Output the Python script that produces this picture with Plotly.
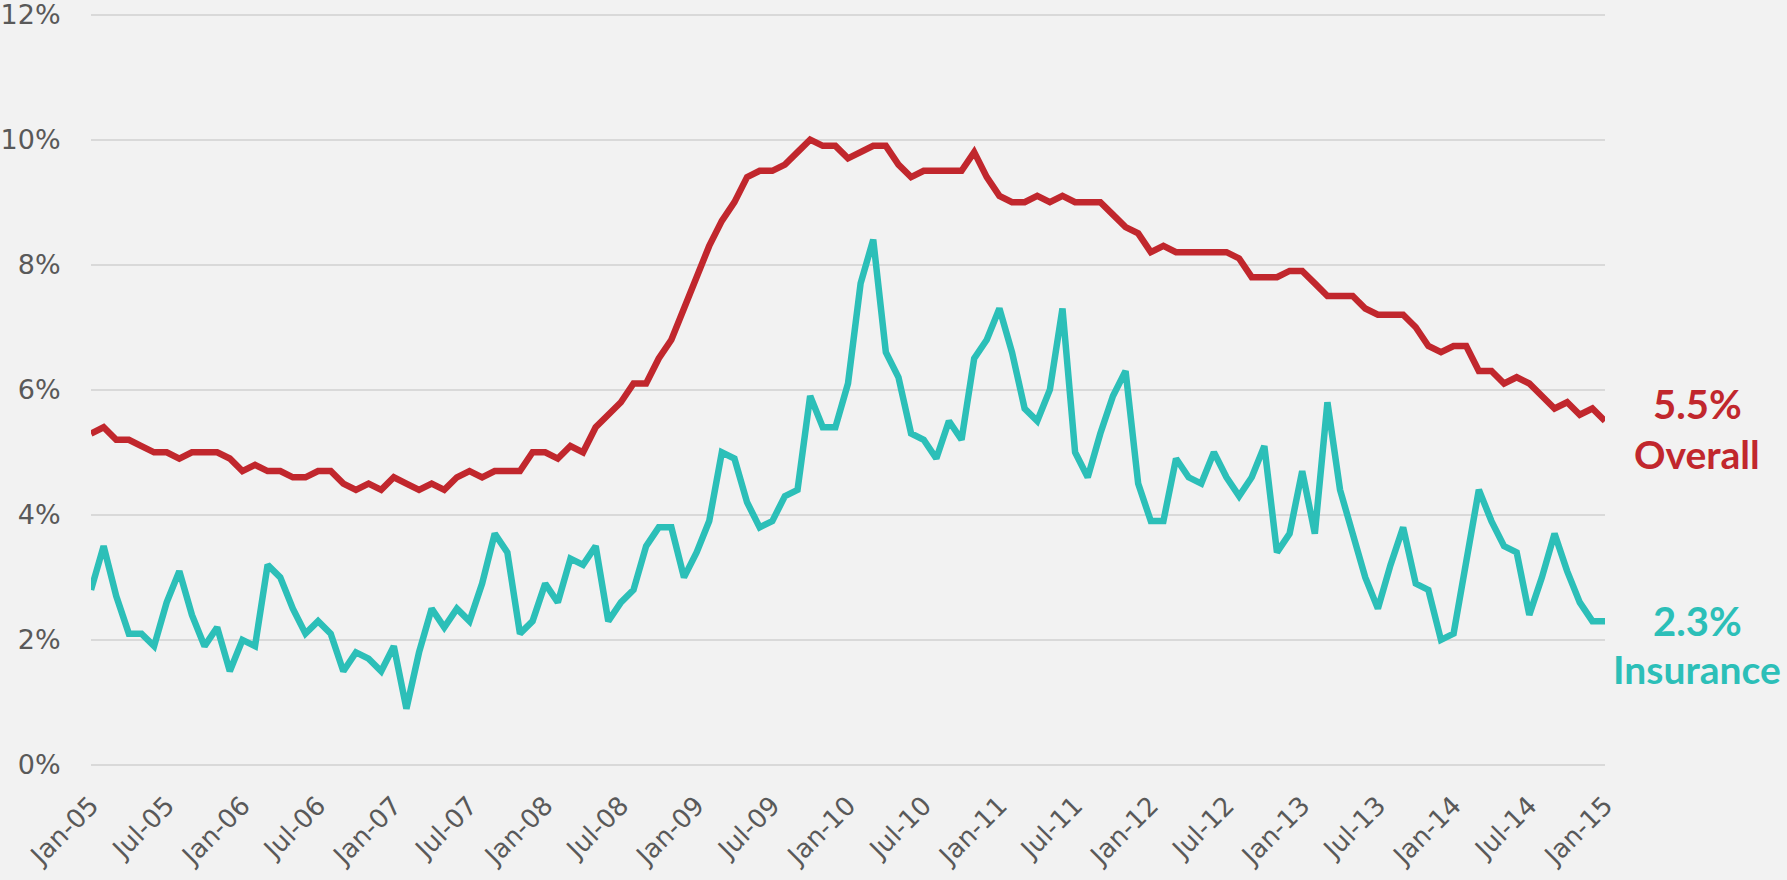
import pandas as pd
import plotly.graph_objects as go

# Monthly categories Jan-05 .. Jan-15
months = pd.date_range("2005-01-01", periods=121, freq="MS").strftime("%b-%y").tolist()

overall = [
    5.3, 5.4, 5.2, 5.2, 5.1, 5.0, 5.0, 4.9, 5.0, 5.0, 5.0, 4.9,   # 2005
    4.7, 4.8, 4.7, 4.7, 4.6, 4.6, 4.7, 4.7, 4.5, 4.4, 4.5, 4.4,   # 2006
    4.6, 4.5, 4.4, 4.5, 4.4, 4.6, 4.7, 4.6, 4.7, 4.7, 4.7, 5.0,   # 2007
    5.0, 4.9, 5.1, 5.0, 5.4, 5.6, 5.8, 6.1, 6.1, 6.5, 6.8, 7.3,   # 2008
    7.8, 8.3, 8.7, 9.0, 9.4, 9.5, 9.5, 9.6, 9.8, 10.0, 9.9, 9.9,  # 2009
    9.7, 9.8, 9.9, 9.9, 9.6, 9.4, 9.5, 9.5, 9.5, 9.5, 9.8, 9.4,   # 2010
    9.1, 9.0, 9.0, 9.1, 9.0, 9.1, 9.0, 9.0, 9.0, 8.8, 8.6, 8.5,   # 2011
    8.2, 8.3, 8.2, 8.2, 8.2, 8.2, 8.2, 8.1, 7.8, 7.8, 7.8, 7.9,   # 2012
    7.9, 7.7, 7.5, 7.5, 7.5, 7.3, 7.2, 7.2, 7.2, 7.0, 6.7, 6.6,   # 2013
    6.7, 6.7, 6.3, 6.3, 6.1, 6.2, 6.1, 5.9, 5.7, 5.8, 5.6, 5.7,   # 2014
    5.5,                                                          # 2015
]

insurance = [
    2.8, 3.5, 2.7, 2.1, 2.1, 1.9, 2.6, 3.1, 2.4, 1.9, 2.2, 1.5,   # 2005
    2.0, 1.9, 3.2, 3.0, 2.5, 2.1, 2.3, 2.1, 1.5, 1.8, 1.7, 1.5,   # 2006
    1.9, 0.9, 1.8, 2.5, 2.2, 2.5, 2.3, 2.9, 3.7, 3.4, 2.1, 2.3,   # 2007
    2.9, 2.6, 3.3, 3.2, 3.5, 2.3, 2.6, 2.8, 3.5, 3.8, 3.8, 3.0,   # 2008
    3.4, 3.9, 5.0, 4.9, 4.2, 3.8, 3.9, 4.3, 4.4, 5.9, 5.4, 5.4,   # 2009
    6.1, 7.7, 8.4, 6.6, 6.2, 5.3, 5.2, 4.9, 5.5, 5.2, 6.5, 6.8,   # 2010
    7.3, 6.6, 5.7, 5.5, 6.0, 7.3, 5.0, 4.6, 5.3, 5.9, 6.3, 4.5,   # 2011
    3.9, 3.9, 4.9, 4.6, 4.5, 5.0, 4.6, 4.3, 4.6, 5.1, 3.4, 3.7,   # 2012
    4.7, 3.7, 5.8, 4.4, 3.7, 3.0, 2.5, 3.2, 3.8, 2.9, 2.8, 2.0,   # 2013
    2.1, 3.3, 4.4, 3.9, 3.5, 3.4, 2.4, 3.0, 3.7, 3.1, 2.6, 2.3,   # 2014
    2.3,                                                          # 2015
]

tick_labels = months[::6]
y_ticks = [0, 2, 4, 6, 8, 10, 12]
y_tick_text = [f"{v}%" for v in y_ticks]

RED = "#C1272D"
TEAL = "#2CBFB8"
GRID = "#D9D9D9"
TXT = "#595959"

fig = go.Figure()
fig.add_trace(go.Scatter(x=months, y=overall, mode="lines", name="Overall",
                         line=dict(color=RED, width=6.5), hoverinfo="x+y"))
fig.add_trace(go.Scatter(x=months, y=insurance, mode="lines", name="Insurance",
                         line=dict(color=TEAL, width=6.5), hoverinfo="x+y"))

fig.update_layout(
    width=1787, height=880,
    paper_bgcolor="#F2F2F2", plot_bgcolor="#F2F2F2",
    margin=dict(l=91, r=182, t=12, b=115),
    showlegend=False,
    font=dict(family="DejaVu Sans, Verdana, sans-serif", color=TXT, size=26),
)
fig.update_xaxes(
    type="category", categoryorder="array", categoryarray=months,
    range=[0, len(months) - 1], automargin=False,
    tickmode="array", tickvals=tick_labels, ticktext=tick_labels,
    tickangle=-45, showgrid=False, showline=False, zeroline=False,
    ticks="outside", ticklen=14, tickcolor="rgba(0,0,0,0)",
    tickfont=dict(size=26, color=TXT),
)
fig.update_yaxes(
    range=[0, 12.04], automargin=False,
    tickmode="array", tickvals=y_ticks, ticktext=y_tick_text,
    showgrid=True, gridcolor=GRID, gridwidth=1.6,
    zeroline=True, zerolinecolor=GRID, zerolinewidth=1.6,
    showline=False, ticks="outside", ticklen=24, tickcolor="rgba(0,0,0,0)",
    tickfont=dict(size=27, color=TXT), ticklabeloverflow="allow",
)

label_font = "Lato, Open Sans, sans-serif"
fig.add_annotation(xref="paper", yref="y", x=1.061, y=5.78, text=f"<b>{overall[-1]:.1f}%</b>",
                   showarrow=False, font=dict(family=label_font, size=40, color=RED), xanchor="center")
fig.add_annotation(xref="paper", yref="y", x=1.061, y=4.97, text="<b>Overall</b>",
                   showarrow=False, font=dict(family=label_font, size=39, color=RED), xanchor="center")
fig.add_annotation(xref="paper", yref="y", x=1.061, y=2.31, text=f"<b>{insurance[-1]:.1f}%</b>",
                   showarrow=False, font=dict(family=label_font, size=40, color=TEAL), xanchor="center")
fig.add_annotation(xref="paper", yref="y", x=1.061, y=1.54, text="<b>Insurance</b>",
                   showarrow=False, font=dict(family=label_font, size=39, color=TEAL), xanchor="center")

fig.write_html("out.html", config={"displayModeBar": False},
               post_script="document.body.style.margin='0';document.body.style.background='#F2F2F2';")
